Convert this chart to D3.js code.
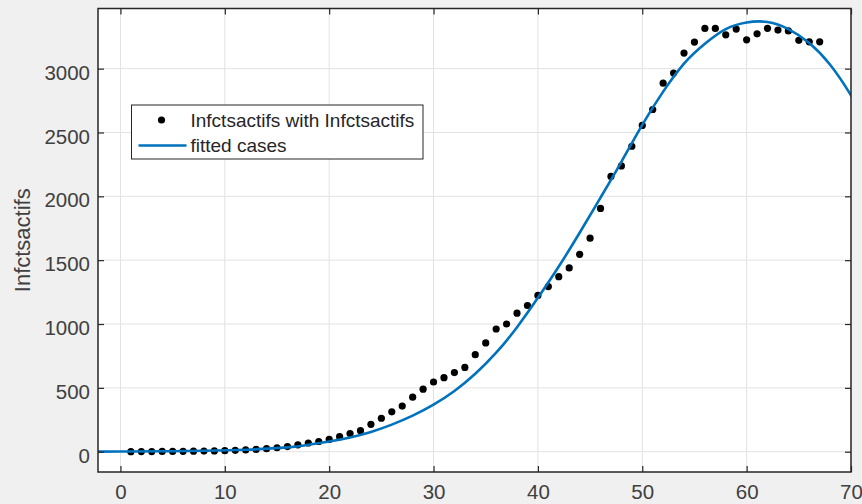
<!DOCTYPE html>
<html>
<head>
<meta charset="utf-8">
<script src="https://cdn.jsdelivr.net/npm/d3@7"></script>
<style>
  html, body { margin: 0; padding: 0; background: #f0f0f0; }
  svg { display: block; font-family: 'Liberation Sans', Arial, Helvetica, sans-serif; }
  .axis text { fill: #404040; font-size: 20.5px; }
  .axis line { stroke: #262626; stroke-width: 1.2; }
  .grid line { stroke: #e2e2e2; stroke-width: 1; }
</style>
</head>
<body>
<div class="root"></div>
<script>
// observed data: day number and active infections
const days = d3.range(1, 68);
const cases = [
  0, 1, 1, 2, 2, 3, 4, 5, 6, 8,
  11, 14, 18, 24, 31, 40, 54, 68, 80, 96,
  118, 142, 165, 214, 262, 312, 357, 427, 490, 546,
  580, 620, 660, 760, 852, 961, 1000, 1085, 1145, 1224,
  1293, 1371, 1439, 1546, 1672, 1905, 2156, 2238, 2392, 2555,
  2680, 2886, 2965, 3122, 3208, 3315, 3315, 3265, 3310, 3226,
  3273, 3316, 3302, 3295, 3222, 3210, 3210
];

// fitted curve
const fitX = [-4, 0, 4, 8, 12, 16, 18, 20, 22, 24, 26, 28, 30, 32, 34, 36, 38, 40,
  42, 44, 46, 48, 50, 52, 54, 56, 58, 60, 62, 64, 66, 68, 70, 72];
const fitY = [0, 1, 3, 7, 15, 34, 54, 80, 112, 155, 212, 282, 368, 475, 610, 775, 975, 1205,
  1450, 1715, 1990, 2270, 2560, 2820, 3040, 3195, 3310, 3362, 3365, 3310, 3200, 3030, 2790, 2500];

const xTicks = [0, 10, 20, 30, 40, 50, 60, 70];
const yTicks = [0, 500, 1000, 1500, 2000, 2500, 3000];

const seriesName = 'Infctsactifs with Infctsactifs';
const fitName = 'fitted cases';
const yTitle = 'Infctsactifs';

const svgWidth = 862;
const svgHeight = 504;
const box = { left: 98, right: 851, top: 8.5, bottom: 472 };

const svg = d3.select('.root')
  .append('svg')
  .attr('width', svgWidth)
  .attr('height', svgHeight);

const x = d3.scaleLinear().domain([-2.15, 70]).range([box.left, box.right]);
const y = d3.scaleLinear().domain([-159, 3471]).range([box.bottom, box.top]);

svg.append('rect')
  .attr('x', box.left)
  .attr('y', box.top)
  .attr('width', box.right - box.left)
  .attr('height', box.bottom - box.top)
  .attr('fill', '#fff');

svg.append('clipPath').attr('id', 'clip')
  .append('rect')
  .attr('x', box.left)
  .attr('y', box.top)
  .attr('width', box.right - box.left)
  .attr('height', box.bottom - box.top);

// grid
const grid = svg.append('g').attr('class', 'grid');

grid.selectAll('line.gx')
  .data(xTicks)
  .enter().append('line')
  .attr('class', 'gx')
  .attr('x1', d => x(d)).attr('x2', d => x(d))
  .attr('y1', box.top).attr('y2', box.bottom);

grid.selectAll('line.gy')
  .data(yTicks)
  .enter().append('line')
  .attr('class', 'gy')
  .attr('y1', d => y(d)).attr('y2', d => y(d))
  .attr('x1', box.left).attr('x2', box.right);

// points
const plot = svg.append('g').attr('clip-path', 'url(#clip)');

plot.selectAll('circle')
  .data(days)
  .enter().append('circle')
  .attr('cx', (d) => x(d))
  .attr('cy', (d, i) => y(cases[i]))
  .attr('r', 3.6)
  .attr('fill', '#000');

const line = d3.line()
  .curve(d3.curveNatural)
  .x((d) => x(d))
  .y((d, i) => y(fitY[i]));

plot.append('path')
  .attr('d', line(fitX))
  .attr('fill', 'none')
  .attr('stroke', '#0072bd')
  .attr('stroke-width', 2.6);

// axes with inward ticks on all four sides
const fmt = d3.format('d');

svg.append('g')
  .attr('class', 'axis')
  .attr('transform', `translate(0,${box.bottom})`)
  .call(d3.axisBottom(x).tickValues(xTicks).tickFormat(fmt).tickSize(-6).tickPadding(12))
  .call(g => g.select('.domain').remove());

svg.append('g')
  .attr('class', 'axis')
  .attr('transform', `translate(0,${box.top})`)
  .call(d3.axisTop(x).tickValues(xTicks).tickSize(-6).tickFormat(''))
  .call(g => g.select('.domain').remove());

svg.append('g')
  .attr('class', 'axis')
  .attr('transform', `translate(${box.left},0)`)
  .call(d3.axisLeft(y).tickValues(yTicks).tickFormat(fmt).tickSize(-6).tickPadding(8))
  .call(g => g.select('.domain').remove())
  .call(g => g.selectAll('text').attr('dy', '0.52em'));

svg.append('g')
  .attr('class', 'axis')
  .attr('transform', `translate(${box.right},0)`)
  .call(d3.axisRight(y).tickValues(yTicks).tickSize(-6).tickFormat(''))
  .call(g => g.select('.domain').remove());

svg.selectAll('.axis').attr('font-family', null).attr('font-size', null);

svg.append('rect')
  .attr('x', box.left)
  .attr('y', box.top)
  .attr('width', box.right - box.left)
  .attr('height', box.bottom - box.top)
  .attr('fill', 'none')
  .attr('stroke', '#262626')
  .attr('stroke-width', 1.5);

svg.append('text')
  .attr('transform', `translate(22,${(box.top + box.bottom) / 2}) rotate(-90)`)
  .attr('text-anchor', 'middle')
  .attr('dy', '0.35em')
  .attr('fill', '#404040')
  .style('font-size', '22px')
  .text(yTitle);

// legend
const legend = svg.append('g').attr('transform', 'translate(131.5,105)');

legend.append('rect')
  .attr('width', 291.5)
  .attr('height', 54)
  .attr('fill', '#fff')
  .attr('stroke', '#262626')
  .attr('stroke-width', 1);

legend.append('circle')
  .attr('cx', 30)
  .attr('cy', 15)
  .attr('r', 3.6)
  .attr('fill', '#000');

legend.append('line')
  .attr('x1', 7).attr('x2', 55)
  .attr('y1', 40.5).attr('y2', 40.5)
  .attr('stroke', '#0072bd')
  .attr('stroke-width', 2.6);

legend.selectAll('text')
  .data([seriesName, fitName])
  .enter().append('text')
  .attr('x', 59)
  .attr('y', (d, i) => 15 + i * 25.5)
  .attr('dy', '0.35em')
  .attr('fill', '#262626')
  .style('font-size', '19px')
  .text(d => d);
</script>
</body>
</html>
